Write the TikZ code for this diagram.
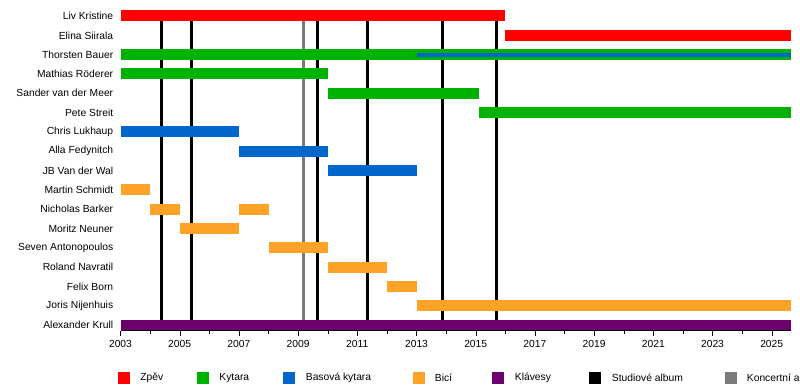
\documentclass[tikz,border=0pt]{standalone}
\usepackage{fontspec}
\setmainfont{Liberation Sans}
\usetikzlibrary{positioning}

\definecolor{zpev}{RGB}{255,0,0}
\definecolor{kytara}{RGB}{0,178,0}
\definecolor{basova}{RGB}{0,102,204}
\definecolor{bici}{RGB}{255,162,40}
\definecolor{klavesy}{RGB}{108,0,108}
\definecolor{koncert}{RGB}{122,122,122}

\begin{document}
\begin{tikzpicture}[x=29.6pt, y=-19.32pt,
    member/.style={anchor=east, inner sep=0pt, font=\fontsize{10.3}{12}\selectfont},
    bar/.style={line width=11pt},
    thinbar/.style={line width=4pt},
    album/.style={line width=3pt},
    legsq/.style={minimum size=12pt, inner sep=0pt},
    legtext/.style={inner sep=0pt, font=\fontsize{10.3}{12}\selectfont},
    yearlabel/.style={inner sep=0pt, font=\fontsize{10.3}{12}\selectfont}]
  \def\nowx{22.65}
  \useasboundingbox (-4.071,-0.828) rectangle (22.956,19.358);

  % members
  \node[member] (liv) at (-0.24,0) {Liv Kristine};
  \node[member] (elina) at (-0.24,1) {Elina Siirala};
  \node[member] (thorsten) at (-0.24,2) {Thorsten Bauer};
  \node[member] (mathias) at (-0.24,3) {Mathias Röderer};
  \node[member] (sander) at (-0.24,4) {Sander van der Meer};
  \node[member] (pete) at (-0.24,5) {Pete Streit};
  \node[member] (chris) at (-0.24,6) {Chris Lukhaup};
  \node[member] (alla) at (-0.24,7) {Alla Fedynitch};
  \node[member] (jb) at (-0.24,8) {JB Van der Wal};
  \node[member] (martin) at (-0.24,9) {Martin Schmidt};
  \node[member] (nicholas) at (-0.24,10) {Nicholas Barker};
  \node[member] (moritz) at (-0.24,11) {Moritz Neuner};
  \node[member] (seven) at (-0.24,12) {Seven Antonopoulos};
  \node[member] (roland) at (-0.24,13) {Roland Navratil};
  \node[member] (felix) at (-0.24,14) {Felix Born};
  \node[member] (joris) at (-0.24,15) {Joris Nijenhuis};
  \node[member] (alexander) at (-0.24,16) {Alexander Krull};

  % albums
  \draw[album] (1.40,-0.3) -- (1.40,16.304);
  \draw[album] (2.41,-0.3) -- (2.41,16.304);
  \draw[album, koncert] (6.17,-0.3) -- (6.17,16.304);
  \draw[album] (6.65,-0.3) -- (6.65,16.304);
  \draw[album] (8.33,-0.3) -- (8.33,16.304);
  \draw[album] (10.88,-0.3) -- (10.88,16.304);
  \draw[album] (12.70,-0.3) -- (12.70,16.304);

  % bars
  \draw[bar, zpev] (0,0) -- (13,0);
  \draw[bar, zpev] (13,1) -- (\nowx,1);
  \draw[bar, kytara] (0,2) -- (\nowx,2);
  \draw[thinbar, basova] (10,2) -- (\nowx,2);
  \draw[bar, kytara] (0,3) -- (7,3);
  \draw[bar, kytara] (7,4) -- (12.1,4);
  \draw[bar, kytara] (12.1,5) -- (\nowx,5);
  \draw[bar, basova] (0,6) -- (4,6);
  \draw[bar, basova] (4,7) -- (7,7);
  \draw[bar, basova] (7,8) -- (10,8);
  \draw[bar, bici] (0,9) -- (1,9);
  \draw[bar, bici] (1,10) -- (2,10);
  \draw[bar, bici] (4,10) -- (5,10);
  \draw[bar, bici] (2,11) -- (4,11);
  \draw[bar, bici] (5,12) -- (7,12);
  \draw[bar, bici] (7,13) -- (9,13);
  \draw[bar, bici] (9,14) -- (10,14);
  \draw[bar, bici] (10,15) -- (\nowx,15);
  \draw[bar, klavesy] (0,16) -- (\nowx,16);

  % axis
  \draw[line width=1pt] (0,16.304) -- (\nowx,16.304);
  \foreach \x in {0,2,...,22} {
    \draw (\x,16.304) -- ++(0pt,-5pt);
    \node[yearlabel] (y\x) at (\x,16.977) {\the\numexpr2003+\x\relax};
  }
  \foreach \x in {1,3,...,21}
    \draw (\x,16.304) -- ++(0pt,-3pt);

  % legend
  \node[legsq, fill=zpev] (lzpev) at (0.118,18.737) {};
  \node[legtext, right=10pt of lzpev] (tzpev) {Zpěv};
  \node[legsq, fill=kytara] (lkytara) at (2.787,18.737) {};
  \node[legtext, right=10pt of lkytara] (tkytara) {Kytara};
  \node[legsq, fill=basova] (lbasova) at (5.709,18.737) {};
  \node[legtext, right=10pt of lbasova] (tbasova) {Basová kytara};
  \node[legsq, fill=bici] (lbici) at (10.068,18.737) {};
  \node[legtext, right=10pt of lbici] (tbici) {Bicí};
  \node[legsq, fill=klavesy] (lklavesy) at (12.770,18.737) {};
  \node[legtext, right=10pt of lklavesy] (tklavesy) {Klávesy};
  \node[legsq, fill=black] (lstudio) at (16.047,18.737) {};
  \node[legtext, right=10pt of lstudio] (tstudio) {Studiové album};
  \node[legsq, fill=koncert] (lkoncert) at (20.608,18.737) {};
  \node[legtext, right=10pt of lkoncert] (tkoncert) {Koncertní album};
\end{tikzpicture}
\end{document}
